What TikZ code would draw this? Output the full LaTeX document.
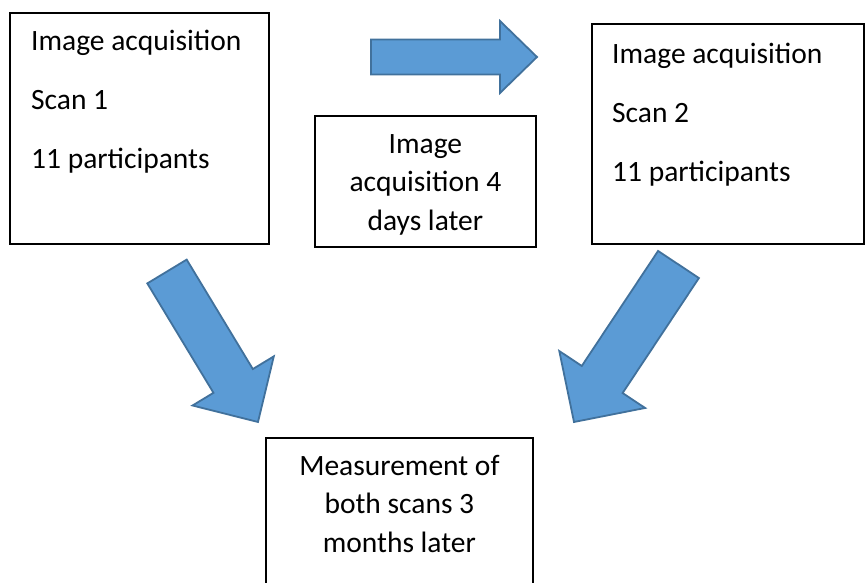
\documentclass[tikz,border=0pt]{standalone}
\usepackage{fontspec}
\setmainfont{Carlito}
\usepackage{tikz}
\usetikzlibrary{calc, positioning}

\definecolor{arrowfill}{HTML}{5B9BD5}
\definecolor{arrowline}{HTML}{41719C}

% fat block arrow: tail, tip, half shaft width, half head width, head length
\newcommand\blockarrow[5]{%
  \coordinate (hb) at ($(#2)!#5!(#1)$);
  \filldraw[fat] ($(#1)!#3!90:(#2)$) -- ($(hb)!#3!-90:(#1)$) -- ($(hb)!#4!-90:(#1)$)
    -- (#2) -- ($(hb)!#4!90:(#1)$) -- ($(hb)!#3!90:(#1)$) -- ($(#1)!#3!-90:(#2)$) -- cycle;
}

\begin{document}
\begin{tikzpicture}[x=1pt, y=-1pt,
    panel/.style={draw, line width=1.8pt, anchor=north west, inner sep=0pt},
    words/.style={inner sep=0pt, font=\fontsize{29.5}{38.5}\selectfont},
    fat/.style={fill=arrowfill, draw=arrowline, line width=1.8pt, line join=miter}
]
\useasboundingbox (0,0) rectangle (865,583);
\clip (0,0) rectangle (865,583);

% boxes
\node[panel, minimum width=259pt, minimum height=231pt] (scanA) at (9,12) {};
\node[panel, minimum width=272pt, minimum height=220pt] (scanB) at (591,23) {};
\node[panel, minimum width=221pt, minimum height=131pt] (gap) at (314,115) {};
\node[panel, minimum width=267pt, minimum height=170pt] (measure) at (265,437) {};

% box texts (base = last line)
\node[words, anchor=base west, align=left] (scanAtxt) at ($(scanA.north west)+(22,156)$)
  {Image acquisition\\[20.5pt]Scan 1\\[20.5pt]11 participants};
\node[words, anchor=base west, align=left] (scanBtxt) at ($(scanB.north west)+(21,159)$)
  {Image acquisition\\[20.5pt]Scan 2\\[20.5pt]11 participants};
\node[words, anchor=base, align=center] (gaptxt) at ($(gap.north)+(0,115)$)
  {Image\\acquisition 4\\days later};
\node[words, anchor=base, align=center] (measuretxt) at ($(measure.north)+(0,115)$)
  {Measurement of\\both scans 3\\months later};

% arrows
\coordinate (r0) at (371,57);
\coordinate (r1) at (537,57);
\coordinate (d0) at (167,271.5);
\coordinate (d1) at (258,422);
\coordinate (e0) at (678.5,264.5);
\coordinate (e1) at (574,422);
\blockarrow{r0}{r1}{17.5pt}{36pt}{37pt}
\blockarrow{d0}{d1}{23pt}{47.5pt}{48pt}
\blockarrow{e0}{e1}{24.5pt}{51.5pt}{51pt}

\end{tikzpicture}
\end{document}
